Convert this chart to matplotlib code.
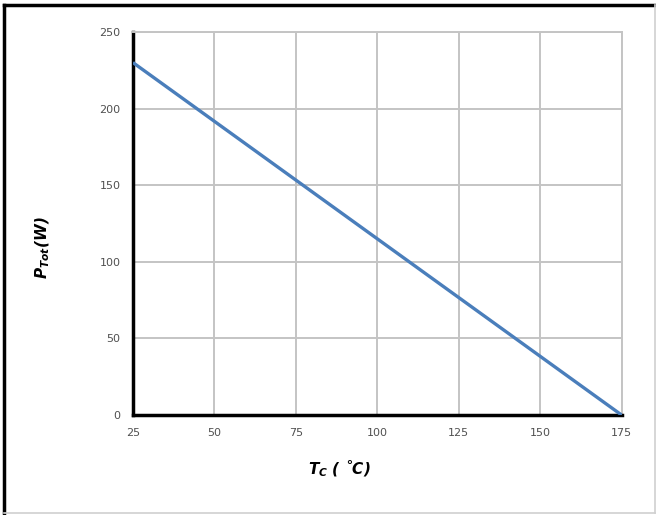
import matplotlib
matplotlib.use("Agg")
import matplotlib.pyplot as plt
from matplotlib.lines import Line2D

plt.rcParams["mathtext.fontset"] = "custom"
plt.rcParams["mathtext.it"] = "DejaVu Sans:bold:italic"
plt.rcParams["mathtext.rm"] = "DejaVu Sans:bold:italic"

# data
tc = [25, 175]
p_tot = [230, 0]
x_ticks = [25, 50, 75, 100, 125, 150, 175]
y_ticks = [0, 50, 100, 150, 200, 250]

fig = plt.figure(figsize=(6.56, 5.15), dpi=100)
ax = fig.add_axes([0.2027, 0.194, 0.745, 0.744])

ax.plot(tc, p_tot, color="#4a7ebb", lw=2.4, solid_capstyle="butt", zorder=3)

ax.set_xlim(25, 175)
ax.set_ylim(0, 250)
ax.set_xticks(x_ticks)
ax.set_yticks(y_ticks)
ax.grid(True, color="#c4c4c4", lw=1.4)
ax.set_axisbelow(True)
ax.tick_params(length=0, labelsize=8, colors="#505050", pad=9)

for s in ["top", "right"]:
    ax.spines[s].set_color("#c4c4c4")
    ax.spines[s].set_linewidth(1.4)
for s in ["left", "bottom"]:
    ax.spines[s].set_color("black")
    ax.spines[s].set_linewidth(2.5)

fig.text(0.518, 0.09, r"$T_C$ ( ˚C)", ha="center", va="center",
         fontsize=11, fontweight="bold", style="italic")
fig.text(0.065, 0.52, r"$P_{Tot}(W)$", ha="center", va="center",
         fontsize=11, rotation=90)

# frame around the whole picture
fig.add_artist(Line2D([0.006, 0.006], [0.003, 0.99], transform=fig.transFigure, color="black", lw=2.5))
fig.add_artist(Line2D([0.006, 1.0], [0.99, 0.99], transform=fig.transFigure, color="black", lw=2.5))
fig.add_artist(Line2D([0.998, 0.998], [0.003, 0.99], transform=fig.transFigure, color="#d0d0d0", lw=1.2))
fig.add_artist(Line2D([0.006, 1.0], [0.004, 0.004], transform=fig.transFigure, color="#d0d0d0", lw=1.2))

fig.savefig("out.png", dpi=100)
